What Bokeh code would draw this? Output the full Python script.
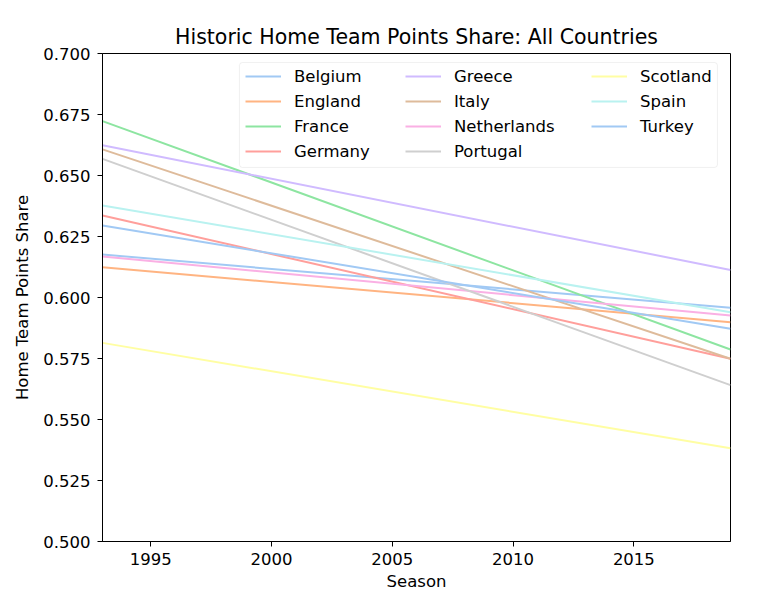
from bokeh.plotting import figure
from bokeh.models import (Legend, LegendItem, FixedTicker, NumeralTickFormatter,
                          Range1d, BoxAnnotation)
from bokeh.embed import file_html
from bokeh.resources import INLINE

countries = ["Belgium", "England", "France", "Germany", "Greece", "Italy",
             "Netherlands", "Portugal", "Scotland", "Spain", "Turkey"]
seasons = [1993, 2019]
start_share = [0.6176, 0.6124, 0.6723, 0.6336, 0.6624, 0.6607,
               0.6168, 0.6568, 0.5814, 0.6377, 0.6295]
end_share = [0.5958, 0.5899, 0.5787, 0.5749, 0.6113, 0.5749,
             0.5926, 0.5641, 0.5382, 0.5940, 0.5872]
colors = ['#a1c9f4', '#ffb482', '#8de5a1', '#ff9f9b', '#d0bbff', '#debb9b',
          '#fab0e4', '#cfcfcf', '#fffea3', '#b9f2f0', '#a1c9f4']
x_ticks = [1995, 2000, 2005, 2010, 2015]
y_ticks = [0.500, 0.525, 0.550, 0.575, 0.600, 0.625, 0.650, 0.675, 0.700]

FONT = "DejaVu Sans"
FS = "16.5px"

p = figure(width=766, height=616, output_backend="svg", toolbar_location=None,
           x_range=Range1d(1993, 2019), y_range=Range1d(0.5, 0.7),
           min_border_left=102, min_border_right=36, min_border_top=53,
           min_border_bottom=75)
p.title.text = "Historic Home Team Points Share: All Countries"
p.title.align = "center"
p.title.text_font = FONT
p.title.text_font_size = "20.5px"
p.title.text_font_style = "normal"
p.title.text_color = "black"
p.title.standoff = 9

p.xgrid.visible = False
p.ygrid.visible = False
p.outline_line_color = "black"
p.outline_line_width = 1

for ax in (p.xaxis[0], p.yaxis[0]):
    ax.major_label_text_font = FONT
    ax.major_label_text_font_size = FS
    ax.major_label_text_color = "black"
    ax.axis_label_text_font = FONT
    ax.axis_label_text_font_size = FS
    ax.axis_label_text_font_style = "normal"
    ax.axis_label_text_color = "black"
    ax.major_tick_out = 5
    ax.major_tick_in = 0
    ax.minor_tick_out = 0
    ax.minor_tick_in = 0
    ax.axis_line_color = "black"
    ax.major_tick_line_color = "black"

p.xaxis.ticker = FixedTicker(ticks=x_ticks)
p.yaxis.ticker = FixedTicker(ticks=y_ticks)
p.yaxis.formatter = NumeralTickFormatter(format="0.000")
p.xaxis.axis_label = "Season"
p.yaxis.axis_label = "Home Team Points Share"
p.xaxis.major_label_standoff = 6
p.yaxis.major_label_standoff = 7
p.xaxis.axis_label_standoff = 4
p.yaxis.axis_label_standoff = 8

items = []
for name, s, e, c in zip(countries, start_share, end_share, colors):
    r = p.line(seasons, [s, e], line_color=c, line_width=2)
    items.append(LegendItem(label=name, renderers=[r]))

# legend frame (screen-space box expressed through the fixed ranges)
box = BoxAnnotation(left=1998.67, right=2018.46, top=0.6963, bottom=0.6533,
                    fill_color="white", fill_alpha=0.8,
                    line_color="#cccccc", line_width=1, border_radius=3)
p.add_layout(box)

col_x = [143, 303, 489]
groups = [items[0:4], items[4:8], items[8:11]]
for gx, grp in zip(col_x, groups):
    n = len(grp)
    h = n * 20 + (n - 1) * 5
    lg = Legend(items=grp, location=(gx, 541 - 53 - 13 - h), orientation="vertical",
                label_text_font=FONT, label_text_font_size=FS, label_text_color="black",
                glyph_width=36, glyph_height=20, label_height=20, spacing=5,
                label_standoff=13, margin=0, padding=0,
                border_line_alpha=0, background_fill_alpha=0)
    p.add_layout(lg, "center")

open("out.html", "w").write(file_html(p, INLINE))
